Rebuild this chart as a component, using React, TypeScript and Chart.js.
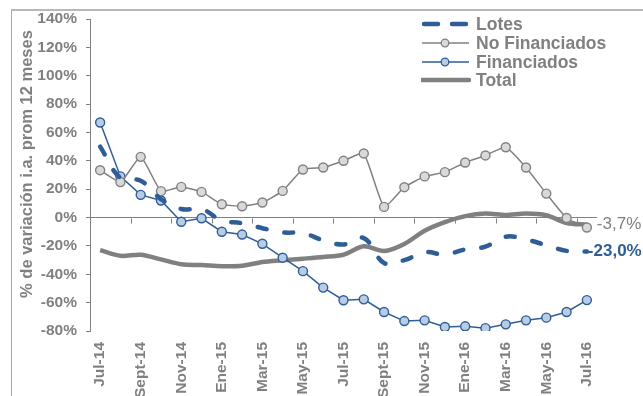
import React, { useEffect, useRef } from 'react';
import { Chart, registerables } from 'chart.js';

Chart.register(...registerables);

const FONT = "'Liberation Sans', Arial, sans-serif";
const GRAY = '#808080';
const BLUE = '#2F5D96';

const categories = [
  'Jul-14', 'Ago-14', 'Sept-14', 'Oct-14', 'Nov-14', 'Dic-14',
  'Ene-15', 'Feb-15', 'Mar-15', 'Abr-15', 'May-15', 'Jun-15',
  'Jul-15', 'Ago-15', 'Sept-15', 'Oct-15', 'Nov-15', 'Dic-15',
  'Ene-16', 'Feb-16', 'Mar-16', 'Abr-16', 'May-16', 'Jun-16', 'Jul-16',
];

const lotes = [50, 28, 26, 13, 6, 6, -2, -4, -7.5, -10.5, -11, -16, -19, -14.5, -32, -30, -24.5, -26, -22.5, -20.5, -13.5, -15.5, -19.5, -23.5, -24];
const noFinanciados = [33.4, 25, 42.8, 18.6, 21.6, 18.1, 9.4, 8, 10.6, 18.8, 33.9, 35.3, 40, 45.2, 7.5, 21.4, 29, 32, 38.8, 43.8, 49.6, 35.3, 16.9, -0.3, -7];
const financiados = [67, 29, 16, 12, -3, -0.5, -10, -12, -18.5, -28.3, -37.8, -49.4, -58.3, -57.7, -66.6, -73, -72.5, -77.2, -76.7, -78, -75.3, -72.5, -70.6, -66.6, -58.2];
const total = [-23, -27, -26.2, -29.5, -33, -33.5, -34.3, -34, -31.3, -30.1, -29, -27.8, -26.2, -20.3, -23.6, -18.6, -9.3, -3.2, 1, 2.8, 1.8, 2.8, 1.6, -3.8, -5];

const seriesNames = ['Lotes', 'No Financiados', 'Financiados', 'Total'];
const yTitle = '% de variación i.a. prom 12 meses';
const endLabelTexts = { total: '-3,7%', lotes: '-23,0%' };

const zeroAxisPlugin = {
  id: 'zeroAxisTicks',
  beforeDatasetsDraw(chart: any) {
    const xs = chart.scales.x;
    const ys = chart.scales.y;
    const ctx = chart.ctx;
    const y0 = Math.round(ys.getPixelForValue(0)) + 0.5;
    const step = xs.getPixelForValue(1) - xs.getPixelForValue(0);
    ctx.save();
    ctx.strokeStyle = GRAY;
    ctx.lineWidth = 1;
    ctx.beginPath();
    for (let i = 2; i < categories.length; i += 2) {
      const px = Math.round(xs.getPixelForValue(i) - step / 2) + 0.5;
      ctx.moveTo(px, y0);
      ctx.lineTo(px, y0 + 5);
    }
    ctx.stroke();
    ctx.restore();
  },
};

const labelsPlugin = {
  id: 'extraLabels',
  afterDatasetsDraw(chart: any) {
    const ctx = chart.ctx;
    const items = [
      { ds: 3, text: endLabelTexts.total, color: GRAY, weight: 'normal', dx: 10 },
      { ds: 0, text: endLabelTexts.lotes, color: BLUE, weight: 'bold', dx: 1 },
    ];
    items.forEach((it) => {
      const meta = chart.getDatasetMeta(it.ds);
      const pt = meta.data[meta.data.length - 1];
      ctx.save();
      ctx.font = `${it.weight} 17px ${FONT}`;
      ctx.fillStyle = it.color;
      ctx.textAlign = 'left';
      ctx.textBaseline = 'middle';
      ctx.fillText(it.text, pt.x + it.dx, pt.y);
      ctx.restore();
    });
    ctx.save();
    ctx.translate(27, 164);
    ctx.rotate(-Math.PI / 2);
    ctx.font = `bold 16.5px ${FONT}`;
    ctx.fillStyle = GRAY;
    ctx.textAlign = 'center';
    ctx.textBaseline = 'middle';
    ctx.fillText(yTitle, 0, 0);
    ctx.restore();
  },
};

function LegendSwatch({ kind }: { kind: number }) {
  if (kind === 0) {
    return (
      <svg width="50" height="10">
        <line x1="3" y1="5" x2="17" y2="5" stroke={BLUE} strokeWidth="4.5" strokeLinecap="round" />
        <line x1="31" y1="5" x2="45" y2="5" stroke={BLUE} strokeWidth="4.5" strokeLinecap="round" />
      </svg>
    );
  }
  if (kind === 1 || kind === 2) {
    const c = kind === 1 ? GRAY : BLUE;
    const f = kind === 1 ? '#D9D9D9' : '#B8CCE4';
    return (
      <svg width="50" height="10">
        <line x1="1" y1="5" x2="48" y2="5" stroke={c} strokeWidth="1.5" />
        <circle cx="24" cy="5" r="3.8" fill={f} stroke={c} strokeWidth="1.3" />
      </svg>
    );
  }
  return (
    <svg width="50" height="10">
      <line x1="1" y1="5" x2="48" y2="5" stroke={GRAY} strokeWidth="4.5" strokeLinecap="round" />
    </svg>
  );
}

export default function App() {
  const canvasRef = useRef<HTMLCanvasElement | null>(null);

  useEffect(() => {
    if (!canvasRef.current) return;
    const tickFont = { family: FONT, size: 15.5, weight: 'bold' as const };
    const chart = new Chart(canvasRef.current, {
      type: 'line',
      data: {
        labels: categories,
        datasets: [
          {
            label: seriesNames[0],
            data: lotes,
            borderColor: BLUE,
            borderWidth: 4.5,
            borderDash: [9, 18],
            borderCapStyle: 'round',
            pointRadius: 0,
            tension: 0.4,
            fill: false,
          },
          {
            label: seriesNames[1],
            data: noFinanciados,
            borderColor: GRAY,
            borderWidth: 1.5,
            pointRadius: 4.5,
            pointBorderWidth: 1.4,
            pointBackgroundColor: '#D9D9D9',
            pointBorderColor: GRAY,
            tension: 0.15,
            fill: false,
          },
          {
            label: seriesNames[2],
            data: financiados,
            borderColor: BLUE,
            borderWidth: 1.5,
            pointRadius: 4.5,
            pointBorderWidth: 1.4,
            pointBackgroundColor: '#B8CCE4',
            pointBorderColor: BLUE,
            tension: 0,
            fill: false,
          },
          {
            label: seriesNames[3],
            data: total,
            borderColor: GRAY,
            borderWidth: 4.5,
            pointRadius: 0,
            tension: 0.3,
            fill: false,
          },
        ],
      },
      options: {
        animation: false,
        responsive: false,
        maintainAspectRatio: false,
        layout: { padding: { top: 19, right: 46, left: 0, bottom: 0 } },
        plugins: {
          legend: { display: false },
          tooltip: { enabled: false },
        },
        scales: {
          x: {
            type: 'category',
            offset: true,
            grid: { display: false, drawTicks: false },
            border: { display: false },
            ticks: {
              autoSkip: false,
              maxRotation: 90,
              minRotation: 90,
              padding: 11,
              color: GRAY,
              font: tickFont,
              callback: (_v: any, i: number) => (i % 2 === 0 ? categories[i] : ''),
            },
            afterFit: (s: any) => {
              s.height = 65;
            },
          },
          y: {
            min: -80,
            max: 140,
            ticks: {
              stepSize: 20,
              padding: 9,
              color: GRAY,
              font: tickFont,
              callback: (v: any) => `${v}%`,
            },
            grid: {
              color: (ctx: any) => (ctx.tick && ctx.tick.value === 0 ? GRAY : 'rgba(0,0,0,0)'),
              tickColor: GRAY,
              tickLength: 4,
              lineWidth: 1,
            },
            border: { display: true, color: GRAY, width: 1 },
            afterFit: (s: any) => {
              s.width = 90;
            },
          },
        },
      },
      plugins: [zeroAxisPlugin, labelsPlugin],
    } as any);
    return () => chart.destroy();
  }, []);

  const legendTop = [24, 43, 62, 80];

  return (
    <div style={{ position: 'fixed', left: 0, top: 0, width: 643, height: 396, background: '#fff', overflow: 'hidden' }}>
      <canvas ref={canvasRef} width={643} height={396} style={{ display: 'block', width: 643, height: 396 }} />
      <div style={{ position: 'absolute', left: 11, top: 9, width: 640, height: 400, borderLeft: '1.5px solid #A8A8A8', borderTop: '2px solid #B8B8B8', pointerEvents: 'none' }} />
      {seriesNames.map((name, i) => (
        <div
          key={name}
          style={{
            position: 'absolute',
            left: 421,
            top: legendTop[i] - 10,
            height: 20,
            display: 'flex',
            alignItems: 'center',
            fontFamily: FONT,
            fontWeight: 'bold',
            fontSize: 17.5,
            color: GRAY,
            whiteSpace: 'nowrap',
            lineHeight: '20px',
          }}
        >
          <LegendSwatch kind={i} />
          <span style={{ marginLeft: 5 }}>{name}</span>
        </div>
      ))}
    </div>
  );
}
